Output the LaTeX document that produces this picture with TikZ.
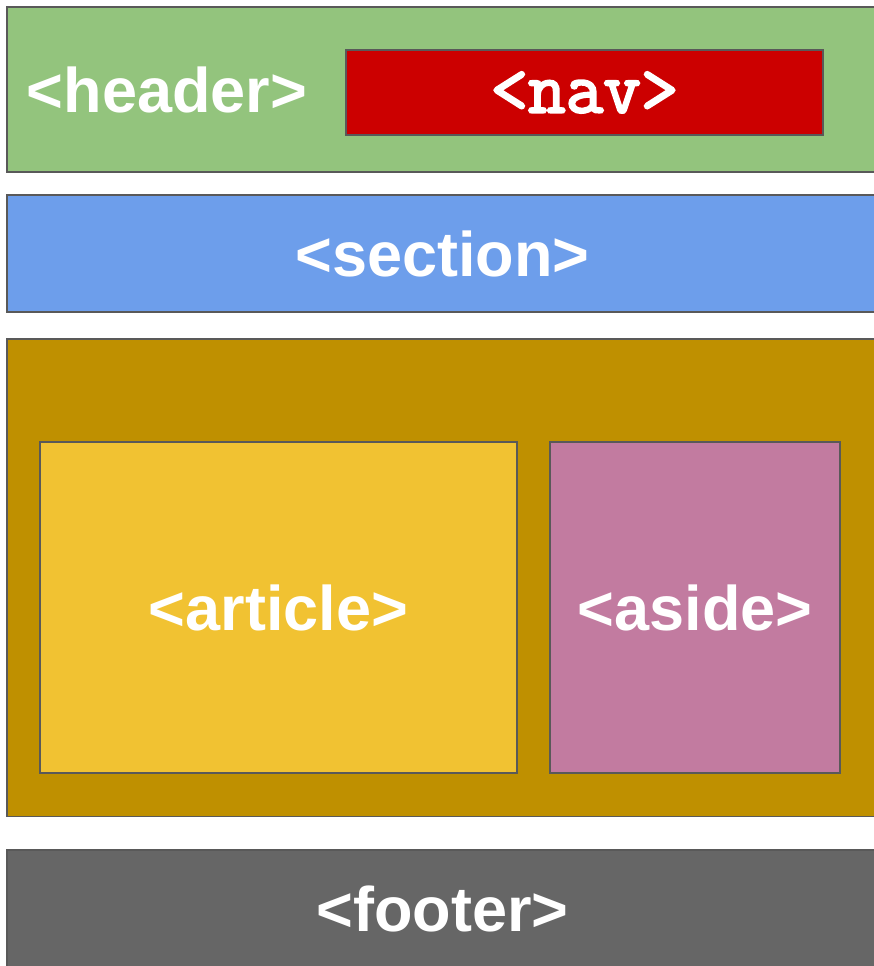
\documentclass[tikz,border=0pt]{standalone}
\usepackage{fontspec}
\setmainfont{Liberation Sans}
\newfontfamily\navfont{Latin Modern Mono}[FakeBold=3]
\definecolor{headergreen}{HTML}{93C47D}
\definecolor{navred}{HTML}{CC0000}
\definecolor{sectionblue}{HTML}{6D9EEB}
\definecolor{maingold}{HTML}{BF9000}
\definecolor{articleyellow}{HTML}{F1C232}
\definecolor{asidepink}{HTML}{C27BA0}
\definecolor{footergray}{HTML}{666666}
\definecolor{edgegray}{HTML}{595959}
\begin{document}
\begin{tikzpicture}[x=1pt, y=-1pt,
  box/.style={draw=edgegray, line width=1.5pt, inner sep=0pt, text=white},
  tag/.style={text=white, font=\bfseries\fontsize{63}{70}\selectfont}]
\useasboundingbox (0,0) rectangle (873,966);
\node[box, fill=headergreen, minimum width=871pt, minimum height=165pt] (header) at (442.5, 89.5) {};
\node[tag] (headertag) at (167, 90) {<header>};
\node[box, fill=navred, minimum width=477pt, minimum height=85pt, font=\navfont\fontsize{73}{75}\selectfont] (nav) at (584.5, 92.5) {<nav>};
\node[box, fill=sectionblue, minimum width=871pt, minimum height=117pt, tag] (section) at (442.5, 253.5) {<section>};
\node[box, fill=maingold, minimum width=871pt, minimum height=477.5pt] (main) at (442.5, 577.75) {};
\node[box, fill=articleyellow, minimum width=477pt, minimum height=331pt, tag] (article) at (278.5, 607.5) {<article>};
\node[box, fill=asidepink, minimum width=290pt, minimum height=331pt, tag] (aside) at (695, 607.5) {<aside>};
\node[box, fill=footergray, minimum width=871pt, minimum height=118pt, tag] (footer) at (442.5, 909) {<footer>};
\end{tikzpicture}
\end{document}
